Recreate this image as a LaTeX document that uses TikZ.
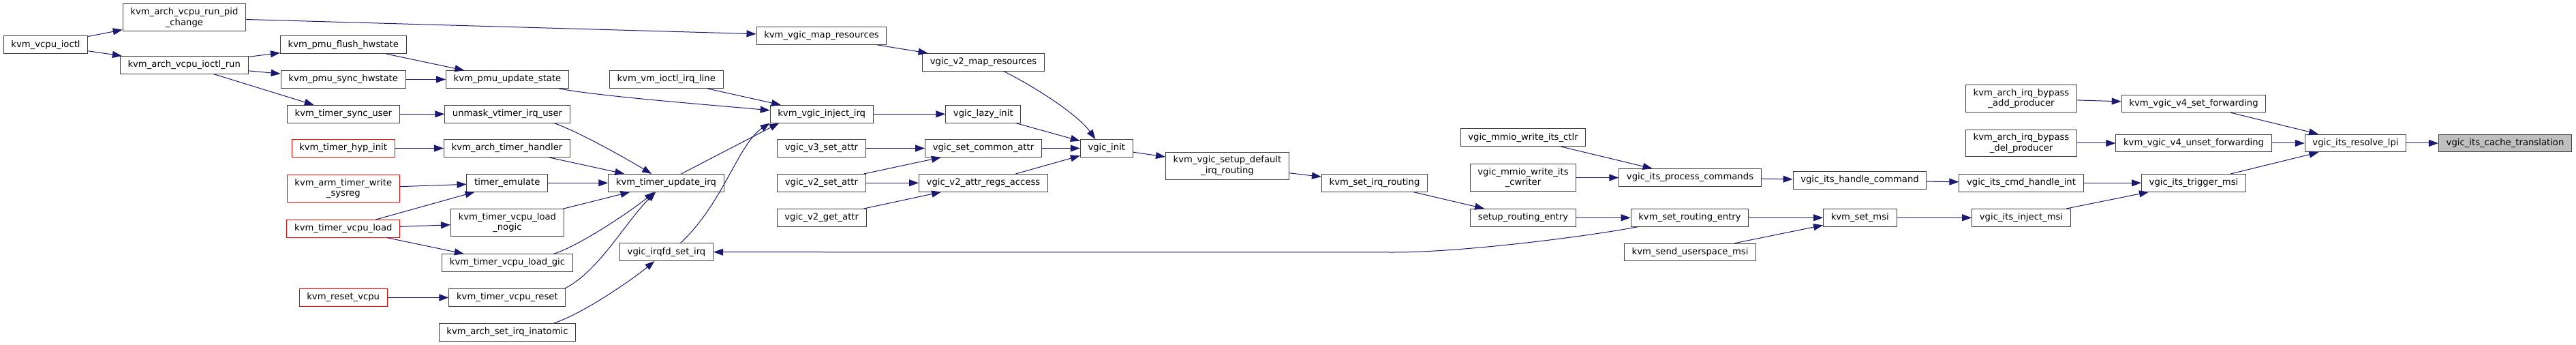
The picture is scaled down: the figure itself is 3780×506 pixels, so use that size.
\documentclass[tikz,border=0pt]{standalone}
\usepackage{fontspec}
\setmainfont{DejaVu Sans}
\usepackage{xcolor}
\usepackage{tikz}
\usetikzlibrary{arrows.meta}

\definecolor{doxyblue}{RGB}{25,25,112}
\definecolor{doxyframe}{RGB}{64,64,64}
\definecolor{doxyroot}{RGB}{191,191,191}

\tikzset{
  fnbox/.style={draw=doxyframe, fill=white, line width=0.75pt, align=center,
    font=\fontsize{9.9pt}{11.5pt}\selectfont, inner xsep=8.4pt, inner ysep=4.3pt,
    minimum height=19.2pt},
  fnred/.style={fnbox, draw=red},
  fnroot/.style={fnbox, fill=doxyroot},
  callarrow/.style={draw=doxyblue, line width=0.75pt, -{Triangle[length=10.5pt,width=7.5pt]}}
}

\begin{document}
\begin{tikzpicture}[x=0.75pt,y=0.75pt,yscale=-1,xscale=1]
\useasboundingbox (0,0) rectangle (3780,506);

% Text Node
\node[fnbox] (vcpuioctl) at (67,65.7) {kvm\_vcpu\_ioctl};
\node[fnbox] (pidchange) at (270.4,25.9) {kvm\_arch\_vcpu\_run\_pid\\\_change};
\node[fnbox] (ioctlrun) at (270.2,95.3) {kvm\_arch\_vcpu\_ioctl\_run};
\node[fnbox] (pmuflush) at (503.8,65.8) {kvm\_pmu\_flush\_hwstate};
\node[fnbox] (pmusync) at (503.7,116.5) {kvm\_pmu\_sync\_hwstate};
\node[fnbox] (timersyncuser) at (503.9,167.3) {kvm\_timer\_sync\_user};
\node[fnred] (hypinit) at (503.6,217.5) {kvm\_timer\_hyp\_init};
\node[fnred] (writesysreg) at (503.8,276.5) {kvm\_arm\_timer\_write\\\_sysreg};
\node[fnred] (vcpuload) at (503.8,335.3) {kvm\_timer\_vcpu\_load};
\node[fnred] (resetvcpu) at (503.7,436.5) {kvm\_reset\_vcpu};

% Text Node
\node[fnbox] (pmuupdate) at (744.5,116.5) {kvm\_pmu\_update\_state};
\node[fnbox] (unmask) at (744.5,167.3) {unmask\_vtimer\_irq\_user};
\node[fnbox] (timerhandler) at (744,217.5) {kvm\_arch\_timer\_handler};
\node[fnbox] (timeremulate) at (744.3,268.3) {timer\_emulate};
\node[fnbox] (loadnogic) at (744.4,326.8) {kvm\_timer\_vcpu\_load\\\_nogic};
\node[fnbox] (loadgic) at (744.5,385.5) {kvm\_timer\_vcpu\_load\_gic};
\node[fnbox] (timerreset) at (744.4,436.5) {kvm\_timer\_vcpu\_reset};
\node[fnbox] (inatomic) at (744.5,487.2) {kvm\_arch\_set\_irq\_inatomic};
\node[fnbox] (irqline) at (977.7,116.5) {kvm\_vm\_ioctl\_irq\_line};
\node[fnbox] (updateirq) at (977.5,268.3) {kvm\_timer\_update\_irq};
\node[fnbox] (irqfd) at (978,369.7) {vgic\_irqfd\_set\_irq};

% Text Node
\node[fnbox] (mapres) at (1205.5,52.5) {kvm\_vgic\_map\_resources};
\node[fnbox] (injectirq) at (1205.7,167.3) {kvm\_vgic\_inject\_irq};
\node[fnbox] (v3setattr) at (1205.5,217.5) {vgic\_v3\_set\_attr};
\node[fnbox] (v2setattr) at (1205.4,268.3) {vgic\_v2\_set\_attr};
\node[fnbox] (v2getattr) at (1205.7,319.3) {vgic\_v2\_get\_attr};
\node[fnbox] (v2mapres) at (1443,91.3) {vgic\_v2\_map\_resources};
\node[fnbox] (lazyinit) at (1442.8,167.3) {vgic\_lazy\_init};
\node[fnbox] (commonattr) at (1443,217.5) {vgic\_set\_common\_attr};
\node[fnbox] (regsaccess) at (1443,268.3) {vgic\_v2\_attr\_regs\_access};
\node[fnbox] (vgicinit) at (1623.8,217.5) {vgic\_init};
\node[fnbox] (defrouting) at (1801,243.2) {kvm\_vgic\_setup\_default\\\_irq\_routing};
\node[fnbox] (setirqrouting) at (2017,268.3) {kvm\_set\_irq\_routing};

% Text Node
\node[fnbox] (itsctlr) at (2235,201.7) {vgic\_mmio\_write\_its\_ctlr};
\node[fnbox] (itscwriter) at (2235,260.5) {vgic\_mmio\_write\_its\\\_cwriter};
\node[fnbox] (routingentry) at (2235,319.3) {setup\_routing\_entry};
\node[fnbox] (processcmds) at (2480,260.5) {vgic\_its\_process\_commands};
\node[fnbox] (setroutingentry) at (2479.5,319.3) {kvm\_set\_routing\_entry};
\node[fnbox] (userspacemsi) at (2480,370) {kvm\_send\_userspace\_msi};
\node[fnbox] (handlecmd) at (2729,264.5) {vgic\_its\_handle\_command};
\node[fnbox] (setmsi) at (2729.3,319.3) {kvm\_set\_msi};
\node[fnbox] (addproducer) at (2966,144.5) {kvm\_arch\_irq\_bypass\\\_add\_producer};
\node[fnbox] (delproducer) at (2966,210) {kvm\_arch\_irq\_bypass\\\_del\_producer};
\node[fnbox] (cmdhandleint) at (2966,268.3) {vgic\_its\_cmd\_handle\_int};
\node[fnbox] (injectmsi) at (2966,319.3) {vgic\_its\_inject\_msi};
\node[fnbox] (setfwd) at (3219,152) {kvm\_vgic\_v4\_set\_forwarding};
\node[fnbox] (unsetfwd) at (3219,210) {kvm\_vgic\_v4\_unset\_forwarding};
\node[fnbox] (triggermsi) at (3219,268.3) {vgic\_its\_trigger\_msi};
\node[fnbox] (resolvelpi) at (3456.5,210) {vgic\_its\_resolve\_lpi};
\node[fnroot] (cachetrans) at (3676,210) {vgic\_its\_cache\_translation};

\coordinate (irqbend) at (2045,370);

%Straight Lines
\draw[callarrow] (vcpuioctl) -- (pidchange);
\draw[callarrow] (vcpuioctl) -- (ioctlrun);
\draw[callarrow] (ioctlrun) -- (pmuflush);
\draw[callarrow] (ioctlrun) -- (pmusync);
\draw[callarrow] (ioctlrun) -- (timersyncuser);
\draw[callarrow] (pidchange) -- (mapres);
\draw[callarrow] (pmuflush) -- (pmuupdate);
\draw[callarrow] (pmusync) -- (pmuupdate);
\draw[callarrow] (timersyncuser) -- (unmask);
\draw[callarrow] (hypinit) -- (timerhandler);
\draw[callarrow] (writesysreg) -- (timeremulate);
\draw[callarrow] (vcpuload) -- (timeremulate);
\draw[callarrow] (vcpuload) -- (loadnogic);
\draw[callarrow] (vcpuload) -- (loadgic);
\draw[callarrow] (resetvcpu) -- (timerreset);
\draw[callarrow] (irqline) -- (injectirq);
\draw[callarrow] (timerhandler) -- (updateirq);
\draw[callarrow] (timeremulate) -- (updateirq);
\draw[callarrow] (loadnogic) -- (updateirq);
\draw[callarrow] (updateirq.31.6) -- (injectirq.192.1);
\draw[callarrow] (mapres) -- (v2mapres);
\draw[callarrow] (injectirq) -- (lazyinit);
\draw[callarrow] (lazyinit) -- (vgicinit);
\draw[callarrow] (v3setattr) -- (commonattr);
\draw[callarrow] (v2setattr) -- (commonattr);
\draw[callarrow] (v2setattr) -- (regsaccess);
\draw[callarrow] (v2getattr) -- (regsaccess);
\draw[callarrow] (commonattr) -- (vgicinit);
\draw[callarrow] (regsaccess) -- (vgicinit);
\draw[callarrow] (vgicinit) -- (defrouting);
\draw[callarrow] (defrouting) -- (setirqrouting);
\draw[callarrow] (setirqrouting) -- (routingentry);
\draw[callarrow] (routingentry) -- (setroutingentry);
\draw[callarrow] (itsctlr) -- (processcmds);
\draw[callarrow] (itscwriter) -- (processcmds);
\draw[callarrow] (processcmds) -- (handlecmd);
\draw[callarrow] (handlecmd) -- (cmdhandleint);
\draw[callarrow] (setroutingentry) -- (setmsi);
\draw[callarrow] (userspacemsi) -- (setmsi);
\draw[callarrow] (setmsi) -- (injectmsi);
\draw[callarrow] (addproducer) -- (setfwd);
\draw[callarrow] (delproducer) -- (unsetfwd);
\draw[callarrow] (cmdhandleint) -- (triggermsi);
\draw[callarrow] (injectmsi) -- (triggermsi);
\draw[callarrow] (setfwd) -- (resolvelpi);
\draw[callarrow] (unsetfwd) -- (resolvelpi);
\draw[callarrow] (triggermsi) -- (resolvelpi);
\draw[callarrow] (resolvelpi) -- (cachetrans);

%Curve Lines
\draw[callarrow] (pmuupdate.-10.7) .. controls +(60,12) and +(-60,-6) .. (injectirq.176.2);
\draw[callarrow] (unmask.-11.3) .. controls +(40,14) and +(-30,-18) .. (updateirq.148);
\draw[callarrow] (loadgic.11) .. controls +(40,-13) and +(-30,25) .. (updateirq.217.6);
\draw[callarrow] (timerreset.9.6) .. controls +(50,-25) and +(-45,45) .. (updateirq.221.2);
\draw[callarrow] (irqfd.33) .. controls +(62,-57) and +(-46,30) .. (injectirq.south west);
\draw[callarrow] (inatomic.11) .. controls +(45,-15) and +(-30,25) .. (irqfd.217.4);
\draw[callarrow] (v2mapres.-24.1) .. controls +(50,25) and +(-25,-35) .. (vgicinit.141.6);
\draw[callarrow] (setroutingentry.190.4) .. controls +(-80,15) and +(100,0) .. (irqbend) -- (irqfd.east);

\end{tikzpicture}
\end{document}
